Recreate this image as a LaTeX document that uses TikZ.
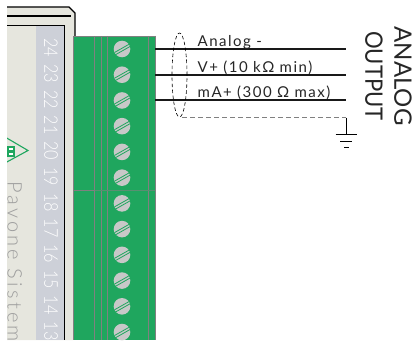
\documentclass[tikz,border=0pt]{standalone}
\usetikzlibrary{shapes.geometric}
\usepackage{fontspec}
\setmainfont{Lato}[UprightFont=* Light]
\newfontfamily\regfont{Lato}[LetterSpace=10]
\newfontfamily\sidefont{Lato}
\newcommand{\Om}{Ω}
\definecolor{grn}{HTML}{1FA65E}
\definecolor{lit}{HTML}{E6E6DE}
\definecolor{strip}{HTML}{CDD0D8}
\definecolor{lin}{HTML}{808080}
\definecolor{scr}{HTML}{C8C8C8}
\tikzset{
  wire/.style={line width=1.4pt,black!90},
  gline/.style={lin,line width=0.9pt},
  walllabel/.style={font=\regfont\fontsize{15}{15}\selectfont,anchor=base west,inner sep=0pt,text=black!85},
  numlabel/.style={font=\fontsize{19}{19}\selectfont,text=white,rotate=-90,inner sep=0pt},
  sidelabel/.style={font=\sidefont\fontsize{24}{24}\selectfont,rotate=-90,inner sep=0pt,text=black!85},
  shield/.style={lin,line width=0.9pt,dashed,dash pattern=on 5pt off 3pt},
}
\begin{document}
\begin{tikzpicture}[x=1pt,y=-1pt]
\useasboundingbox (0,0) rectangle (414,345);
% enclosure
\fill[lit] (7,7) -- (69,7) -- (75,13) -- (75,36) -- (73,36) -- (73,340) -- (7,340) -- cycle;
\fill[strip] (36,25.5) rectangle (64.5,340);
\draw[black,line width=1.3pt] (7,7) -- (69,7) -- (75,13) -- (75,36);
\draw[black,line width=1.3pt] (7,16) -- (71,16);
\draw[black,line width=1.3pt] (7,25.5) -- (64.5,25.5) -- (64.5,340);
% terminal block
\fill[grn] (73.5,36) rectangle (155,340);
\draw[gline] (155,36) -- (73.5,36) -- (73.5,340);
\draw[gline] (94.5,36) -- (94.5,340);
\draw[gline] (101.5,36) -- (101.5,340);
\draw[gline] (107.5,36) -- (107.5,340);
\draw[gline] (148,36) -- (148,340);
\draw[gline] (155,36) -- (155,340);
\draw[gline] (73.5,190.5) -- (94.5,190.5);
\draw[lin!60!grn,line width=0.7pt] (94.5,190.5) -- (155,190.5);
% screws and numbers
\begin{scope}
\clip (0,0) rectangle (414,340);
\foreach \n [count=\i from 0] in {24,23,22,21,20,19,18,17,16,15,14,13} {
  \pgfmathsetmacro{\yy}{49+25.73*\i}
  \fill[scr] (122,\yy) circle (8.3);
  \draw[grn,line width=0.8pt] (114.5,\yy+3.5) -- (129.5,\yy-5);
  \draw[grn,line width=0.8pt] (115,\yy+6) -- (130,\yy-2.5);
  \node[numlabel] (n\n) at (51,\yy-1) {\scalebox{0.85}[1]{\n}};
}
% logo
\begin{scope}
\clip (7,0) rectangle (64,340);
\draw[grn,line width=1.1pt] (5,137) -- (28,150.5) -- (5,163);
\fill[grn] (7,146) rectangle (15,157);
\fill[white] (8.5,148) rectangle (13,150);
\fill[white] (8.5,152.5) rectangle (13,154.5);
\node[rotate=-90,anchor=base west,inner sep=0pt,text=black!38,font=\fontsize{20}{20}\selectfont] (brand) at (7.5,181) {\addfontfeature{LetterSpace=16}Pavone Sistem};
\end{scope}
\end{scope}
% wires
\coordinate (w1a) at (155,49); \coordinate (w1b) at (346,49);
\coordinate (w2a) at (155,75); \coordinate (w2b) at (346,75);
\coordinate (w3a) at (155,100); \coordinate (w3b) at (346,100);
\draw[wire] (w1a) -- (w1b);
\draw[wire] (w2a) -- (w2b);
\draw[wire] (w3a) -- (w3b);
\node[walllabel] (la) at (197.5,46) {Analog -};
\node[walllabel] (lv) at (197.5,72) {V+ (10 k\Om{} min)};
\node[walllabel] (lm) at (197.5,97.5) {mA+ (300 \Om{} max)};
% shield
\node[draw=black,line width=0.6pt,dash pattern=on 3.5pt off 2.5pt,ellipse,minimum width=15pt,minimum height=84pt,inner sep=0pt] (shieldloop) at (179.5,75) {};
\coordinate (sa) at (182,117.5);
\coordinate (sb) at (346,117.5);
\draw[shield] (sa) -- (sb);
% ground
\coordinate (g0) at (346,117.5);
\coordinate (g1) at (346,134.5);
\draw[black,line width=0.8pt] (g0) -- (g1);
\draw[black,line width=0.9pt] (335.5,134.5) -- (357,134.5);
\draw[black,line width=0.9pt] (340,141.5) -- (352,141.5);
\draw[black,line width=0.9pt] (344,147) -- (349,147);
% side labels
\node[sidelabel] (analog) at (403,76) {ANALOG};
\node[sidelabel] (output) at (374,76) {\scalebox{0.92}[1]{OUTPUT}};
\end{tikzpicture}
\end{document}
